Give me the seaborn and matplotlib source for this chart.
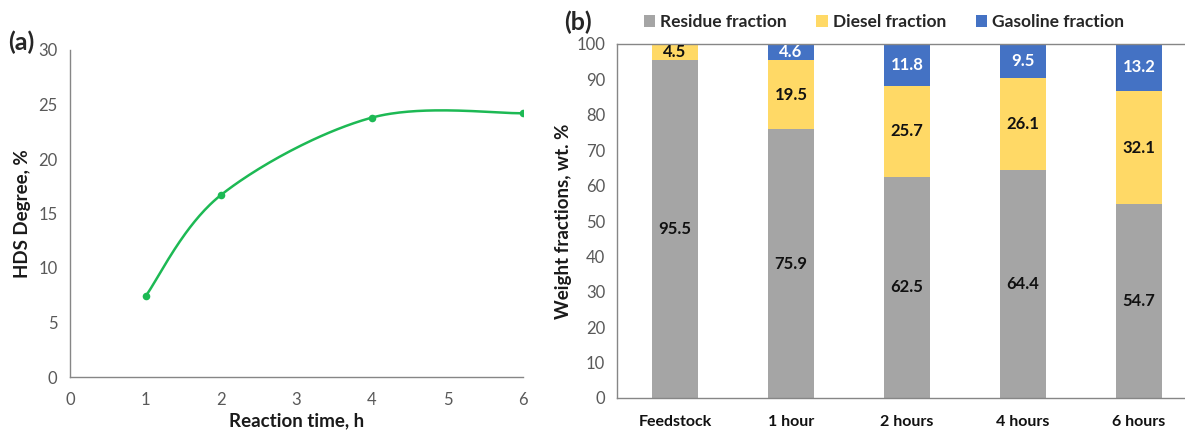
import numpy as np
import pandas as pd
import matplotlib
matplotlib.use("Agg")
import matplotlib.pyplot as plt
from matplotlib.patches import Patch
import seaborn as sns

# ---------------- data ----------------
time_h = [1, 2, 4, 6]
hds_degree = [7.4, 16.7, 23.8, 24.2]

categories = ["Feedstock", "1 hour", "2 hours", "4 hours", "6 hours"]
residue = [95.5, 75.9, 62.5, 64.4, 54.7]
diesel = [4.5, 19.5, 25.7, 26.1, 32.1]
gasoline = [0.0, 4.6, 11.8, 9.5, 13.2]

series_names = ["Residue fraction", "Diesel fraction", "Gasoline fraction"]

# ---------------- style ----------------
sns.set_theme(style="white")
plt.rcParams["font.family"] = ["Lato", "DejaVu Sans"]

GRAY = "#A5A5A5"
YELLOW = "#FFD966"
BLUE = "#4472C4"
GREEN = "#1DB954"
AXC = "#868686"
TICKC = "#595959"


def excel_smooth(x, y, n=60):
    """Smoothed path through the data points (Bezier, like a spreadsheet 'smoothed line')."""
    pts = np.column_stack([x, y]).astype(float)
    P = np.vstack([pts[0], pts, pts[-1]])
    out = []
    for i in range(len(pts) - 1):
        p0, p1, p2, p3 = P[i], P[i + 1], P[i + 2], P[i + 3]
        c1 = p1 + (p2 - p0) / 6.0
        c2 = p2 - (p3 - p1) / 6.0
        t = np.linspace(0, 1, n)[:, None]
        seg = (1 - t) ** 3 * p1 + 3 * (1 - t) ** 2 * t * c1 + 3 * (1 - t) * t ** 2 * c2 + t ** 3 * p2
        out.append(seg if i == 0 else seg[1:])
    return np.vstack(out)


W, H = 1185, 430
fig = plt.figure(figsize=(W / 100, H / 100), dpi=100)
fig.patch.set_facecolor("white")

# ---------------- panel (a) ----------------
axa = fig.add_axes([70 / W, 1 - 377 / H, 453 / W, 327 / H])
curve = excel_smooth(time_h, hds_degree)
df_curve = pd.DataFrame({"x": curve[:, 0], "y": curve[:, 1]})
sns.lineplot(data=df_curve, x="x", y="y", sort=False, estimator=None,
             color=GREEN, linewidth=1.8, ax=axa)
sns.scatterplot(x=time_h, y=hds_degree, color=GREEN, s=30, edgecolor=GREEN,
                linewidth=0, ax=axa, zorder=3)
axa.set_xlim(0, 6)
axa.set_ylim(0, 30)
axa.set_xticks(range(0, 7))
axa.set_yticks(range(0, 31, 5))
for s in ["top", "right"]:
    axa.spines[s].set_visible(False)
for s in ["left", "bottom"]:
    axa.spines[s].set_color(AXC)
    axa.spines[s].set_linewidth(1.0)
axa.tick_params(axis="both", direction="out", length=5, width=1.0, color=AXC,
                labelcolor=TICKC, labelsize=12, pad=4)
axa.tick_params(axis="x", pad=6)
axa.set_xlabel("Reaction time, h", fontsize=13.5, fontweight="bold", color="#1a1a1a", labelpad=3)
axa.set_ylabel("HDS Degree, %", fontsize=13.5, fontweight="bold", color="#1a1a1a", labelpad=5)
axa.set_facecolor("white")

# ---------------- panel (b) ----------------
axb = fig.add_axes([617 / W, 1 - 398 / H, 580 / W, 354 / H])
res_arr = np.array(residue)
die_arr = np.array(diesel)
gas_arr = np.array(gasoline)
top_gas = res_arr + die_arr + gas_arr
top_die = res_arr + die_arr

df_b = pd.DataFrame({"cat": categories, "total": top_gas, "rd": top_die, "r": res_arr})
sns.barplot(data=df_b, x="cat", y="total", color=BLUE, saturation=1, width=0.4,
            linewidth=0, ax=axb)
sns.barplot(data=df_b, x="cat", y="rd", color=YELLOW, saturation=1, width=0.4,
            linewidth=0, ax=axb)
sns.barplot(data=df_b, x="cat", y="r", color=GRAY, saturation=1, width=0.4,
            linewidth=0, ax=axb)

for i in range(len(categories)):
    axb.text(i, res_arr[i] / 2, f"{residue[i]:.1f}", ha="center", va="center",
             fontsize=12, fontweight="bold", color="#111111")
    if diesel[i] > 0:
        axb.text(i, res_arr[i] + die_arr[i] / 2, f"{diesel[i]:.1f}", ha="center", va="center",
                 fontsize=12, fontweight="bold", color="#111111")
    if gasoline[i] > 0:
        axb.text(i, top_die[i] + gas_arr[i] / 2, f"{gasoline[i]:.1f}", ha="center", va="center",
                 fontsize=12, fontweight="bold", color="white")

axb.set_xlim(-0.5, 4.5)
axb.set_ylim(0, 100)
axb.set_yticks(range(0, 101, 10))
axb.set_xticks(range(len(categories)))
axb.set_xticklabels(categories, fontsize=11.5, fontweight="bold", color="#111111")
axb.set_xticks(np.arange(-0.5, 5.0, 1.0), minor=True)
axb.tick_params(axis="x", which="major", length=0, pad=12)
axb.tick_params(axis="x", which="minor", direction="out", length=5, width=1.0, color=AXC)
axb.tick_params(axis="y", direction="out", length=5, width=1.0, color=AXC,
                labelcolor=TICKC, labelsize=12)
axb.spines["right"].set_visible(False)
for s in ["left", "bottom", "top"]:
    axb.spines[s].set_color(AXC)
    axb.spines[s].set_linewidth(1.0)
axb.set_xlabel("")
axb.set_ylabel("Weight fractions, wt. %", fontsize=13.5, fontweight="bold", color="#1a1a1a", labelpad=3)

handles = [Patch(facecolor=c, edgecolor="none", label=n)
           for c, n in zip([GRAY, YELLOW, BLUE], series_names)]
fig.legend(handles=handles, loc="center", bbox_to_anchor=(884 / W, 1 - 22 / H), ncol=3,
           frameon=False, handlelength=0.65, handleheight=0.65, handletextpad=0.3,
           columnspacing=1.7, prop={"weight": "bold", "size": 12.5})

fig.text(8 / W, 1 - 42 / H, "(a)", fontsize=18, fontweight="bold", va="center", ha="left")
fig.text(564 / W, 1 - 22 / H, "(b)", fontsize=18, fontweight="bold", va="center", ha="left")

fig.savefig("out.png", dpi=100, facecolor="white")
